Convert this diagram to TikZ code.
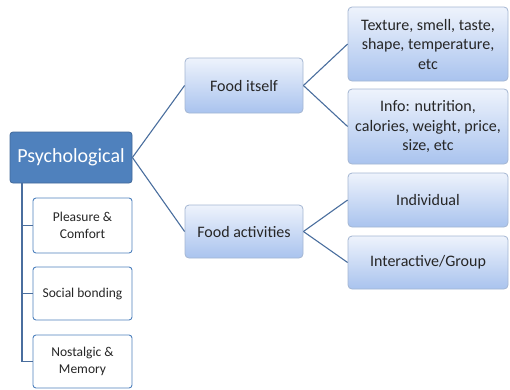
\documentclass[tikz,border=0pt]{standalone}
\usepackage{fontspec}
\setmainfont{Carlito}
\definecolor{mainblue}{HTML}{4F81BD}
\definecolor{mainedge}{HTML}{41699A}
\definecolor{linecol}{HTML}{4A6E9E}
\definecolor{gradtop}{HTML}{EEF3FC}
\definecolor{gradbot}{HTML}{A9C3EE}
\definecolor{gradedge}{HTML}{A4B6D2}
\begin{document}
\begin{tikzpicture}[x=1pt,y=-1pt,
  rootbox/.style={draw=mainedge, fill=mainblue, text=white, rounded corners=3pt, line width=0.8pt,
    minimum width=122pt, minimum height=51pt, font=\fontsize{20}{24}\selectfont, inner sep=0pt},
  whitebox/.style={draw=mainblue, fill=white, rounded corners=3pt, line width=0.9pt,
    minimum width=99pt, inner sep=0pt, align=center, text=black!85, font=\fontsize{13.5}{16.5}\selectfont},
  gradbox/.style={draw=gradedge, top color=gradtop, bottom color=gradbot, rounded corners=4pt, line width=0.8pt,
    inner sep=0pt, align=center, text=black!85, font=\fontsize{16}{19.5}\selectfont},
  midbox/.style={gradbox, minimum width=118pt},
  rightbox/.style={gradbox, minimum width=160pt},
  conn/.style={draw=linecol, line width=1.1pt}]
\useasboundingbox (0,0) rectangle (510,389);

\node[rootbox] (psych) at (71,157.5) {Psychological};
\node[whitebox, minimum height=55pt] (pleasure) at (82.5,225.5) {Pleasure \&\\Comfort};
\node[whitebox, minimum height=53pt] (social) at (82.5,293.5) {Social bonding};
\node[whitebox, minimum height=53pt] (nostalgic) at (82.5,361.5) {Nostalgic \&\\Memory};

\node[midbox, minimum height=55pt] (itself) at (244,85.5) {Food itself};
\node[midbox, minimum height=53pt] (activities) at (244,231.5) {Food activities};

\node[rightbox, minimum height=74pt] (texture) at (428,44) {Texture, smell, taste,\\shape, temperature,\\etc};
\node[rightbox, minimum height=75pt] (info) at (428,126.5) {Info: nutrition,\\calories, weight, price,\\size, etc};
\node[rightbox, minimum height=54pt] (individual) at (428,200) {Individual};
\node[rightbox, minimum height=53pt] (interactive) at (428,262.5) {Interactive/Group};

\coordinate (vtop) at (22,183);
\coordinate (vbot) at (22,361.5);
\draw[conn] (vtop) -- (vbot);
\draw[conn] (pleasure.west -| vtop) -- (pleasure.west);
\draw[conn] (social.west -| vtop) -- (social.west);
\draw[conn] (nostalgic.west -| vtop) -- (nostalgic.west);

\draw[conn] (psych.east) -- (itself.west);
\draw[conn] (psych.east) -- (activities.west);
\draw[conn] (itself.east) -- (texture.west);
\draw[conn] (itself.east) -- (info.west);
\draw[conn] (activities.east) -- (individual.west);
\draw[conn] (activities.east) -- (interactive.west);
\end{tikzpicture}
\end{document}
